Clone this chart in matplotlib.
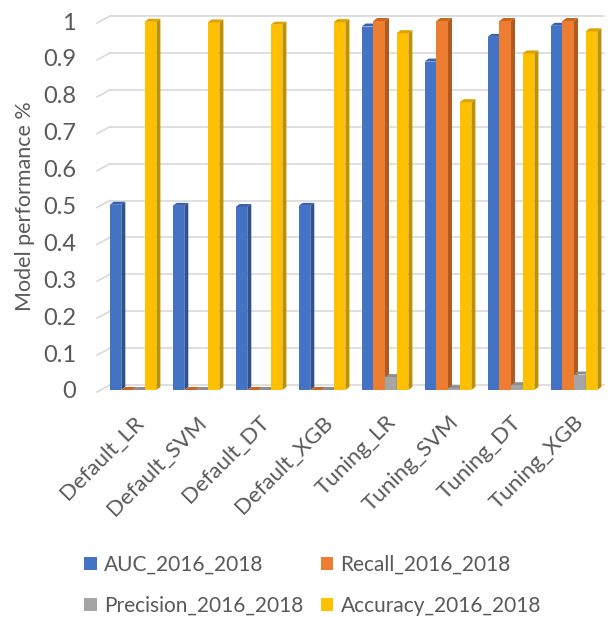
import matplotlib
matplotlib.use("Agg")
import matplotlib.pyplot as plt
import numpy as np

# data
models = ["Default_LR", "Default_SVM", "Default_DT", "Default_XGB",
          "Tuning_LR", "Tuning_SVM", "Tuning_DT", "Tuning_XGB"]
auc = [0.502, 0.499, 0.496, 0.499, 0.985, 0.89, 0.957, 0.987]
recall = [0.0, 0.0, 0.0, 0.0, 1.0, 1.0, 1.0, 1.0]
precision = [0.0, 0.0, 0.0, 0.0, 0.035, 0.005, 0.013, 0.042]
accuracy = [0.998, 0.996, 0.99, 0.997, 0.967, 0.78, 0.912, 0.972]
series_names = ["AUC_2016_2018", "Recall_2016_2018",
                "Precision_2016_2018", "Accuracy_2016_2018"]
yticks = [0, 0.1, 0.2, 0.3, 0.4, 0.5, 0.6, 0.7, 0.8, 0.9, 1]

face = ["#4472C4", "#ED7D31", "#A5A5A5", "#FFC000"]
side = ["#2F528F", "#AE5A21", "#7B7B7B", "#BF9000"]
top = ["#3A63AD", "#C9661F", "#8E8E8E", "#D9A300"]
txt = "#595959"

plt.rcParams["font.family"] = ["Lato", "DejaVu Sans"]

W, H = 608, 617
fig = plt.figure(figsize=(W / 100, H / 100), dpi=100)
L, R, T, B = 97, 604, 15, 390
ax = fig.add_axes([L / W, 1 - B / H, (R - L) / W, (B - T) / H])

px_x = 1 / 63.0          # data units per pixel (x)
ymax = (B - T) / 369.0
px_y = 1 / 369.0         # data units per pixel (y)
x0 = -(133 - L) * px_x
ax.set_xlim(x0, x0 + (R - L) * px_x)
ax.set_ylim(0, ymax)

# back wall gridlines + slanted floor lines
back = 5 * px_y
for v in yticks:
    ax.plot([x0 + 13 * px_x, x0 + (R - L) * px_x], [v + back, v + back],
            color="#D9D9D9", lw=1.2, zorder=0, clip_on=False)
    ax.plot([x0, x0 + 13 * px_x], [v - 2 * px_y, v + back],
            color="#D9D9D9", lw=1.2, zorder=0, clip_on=False)

bw = 11.7 * px_x
dx, dy = 4 * px_x, 3 * px_y
x = np.arange(len(models))
all_vals = [auc, recall, precision, accuracy]
handles = []
for k, vals in enumerate(all_vals):
    xs = x + (k - 1.5) * bw
    b = ax.bar(xs, vals, width=bw, color=face[k], zorder=2 + k * 0.01,
               label=series_names[k])
    handles.append(b)
    for xc, h in zip(xs, vals):
        xl, xr = xc - bw / 2, xc + bw / 2
        ax.fill([xr, xr + dx, xr + dx, xr], [0, dy, h + dy, h],
                color=side[k], lw=0, zorder=2 + k * 0.01)
        ax.fill([xl, xr, xr + dx, xl + dx], [h, h, h + dy, h + dy],
                color=top[k], lw=0, zorder=2 + k * 0.01)

for s in ax.spines.values():
    s.set_visible(False)

ax.set_yticks(yticks)
ax.set_yticklabels([f"{v:g}" for v in yticks], fontsize=17, color=txt)
ax.tick_params(axis="y", length=0, pad=15)
fig.text(25 / W, 1 - 206 / H, "Model performance %", rotation=90,
         fontsize=15.5, color=txt, ha="center", va="center")

ax.set_xticks(x)
ax.set_xticklabels(models, rotation=45, ha="right", rotation_mode="anchor",
                   fontsize=16, color=txt)
ax.tick_params(axis="x", length=0, pad=16)

# legend: row 1 AUC / Recall, row 2 Precision / Accuracy
order = [0, 2, 1, 3]
fig.legend([handles[i] for i in order], [series_names[i] for i in order],
           ncol=2, loc="upper left", bbox_to_anchor=(84 / W, 1 - 555 / H),
           frameon=False, fontsize=15, labelcolor=txt, borderpad=0,
           borderaxespad=0, handlelength=0.6, handleheight=0.6,
           handletextpad=0.35, columnspacing=0.85, labelspacing=1.0)

fig.savefig("out.png", dpi=100)
